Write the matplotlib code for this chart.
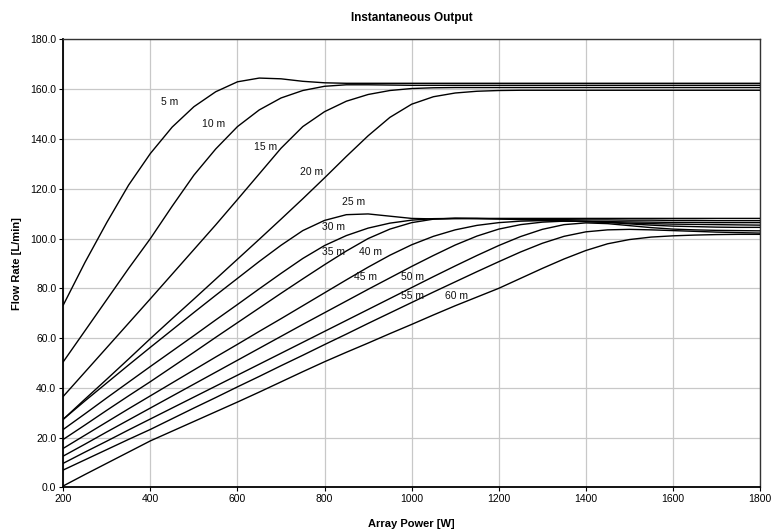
import matplotlib
matplotlib.use("Agg")
import matplotlib.pyplot as plt
from matplotlib.ticker import FormatStrFormatter

plt.rcParams['font.family'] = ['Liberation Sans', 'DejaVu Sans']

power_w = [200, 250, 300, 350, 400, 450, 500, 550, 600, 650, 700, 750, 800, 850, 900,
           950, 1000, 1050, 1100, 1150, 1200, 1250, 1300, 1350, 1400, 1450, 1500, 1550,
           1600, 1650, 1700, 1750, 1800]

flow_5m = [73.3, 90.5, 106.5, 121.5, 134.2, 144.8, 153.0, 159.0, 163.0, 164.5, 164.2, 163.2,
           162.6, 162.4, 162.4, 162.4, 162.4, 162.4, 162.4, 162.4, 162.4, 162.4, 162.4, 162.4,
           162.4, 162.4, 162.4, 162.4, 162.4, 162.4, 162.4, 162.4, 162.4]
flow_10m = [50.5, 63.0, 75.5, 88.0, 100.0, 113.0, 125.5, 136.0, 145.0, 151.7, 156.5, 159.5,
            161.2, 161.8, 161.8, 161.7, 161.6, 161.6, 161.6, 161.6, 161.6, 161.6, 161.6, 161.6,
            161.6, 161.6, 161.6, 161.6, 161.6, 161.6, 161.6, 161.6, 161.6]
flow_15m = [36.6, 46.4, 56.2, 66.0, 75.8, 85.7, 95.6, 105.5, 115.7, 126.0, 136.3, 145.0,
            151.0, 155.2, 157.9, 159.5, 160.3, 160.6, 160.7, 160.7, 160.7, 160.7, 160.7, 160.7,
            160.7, 160.7, 160.7, 160.7, 160.7, 160.7, 160.7, 160.7, 160.7]
flow_20m = [27.4, 35.5, 43.5, 51.6, 59.8, 67.8, 75.7, 83.7, 91.7, 99.7, 107.8, 116.0,
            124.4, 133.0, 141.3, 148.7, 154.0, 157.0, 158.5, 159.2, 159.5, 159.6, 159.6, 159.6,
            159.6, 159.6, 159.6, 159.6, 159.6, 159.6, 159.6, 159.6, 159.6]
flow_25m = [27.4, 34.8, 42.0, 49.2, 56.3, 63.3, 70.3, 77.2, 84.0, 90.8, 97.3, 103.2,
            107.3, 109.6, 109.9, 109.0, 108.1, 107.9, 108.0, 108.1, 108.1, 108.1, 108.1, 108.1,
            108.1, 108.1, 108.1, 108.1, 108.1, 108.1, 108.1, 108.1, 108.1]
flow_30m = [23.3, 29.6, 36.0, 42.3, 48.6, 54.8, 61.0, 67.3, 73.5, 79.8, 86.0, 92.0,
            97.2, 101.2, 104.2, 106.2, 107.4, 108.0, 108.1, 108.0, 107.9, 107.8, 107.7, 107.6,
            107.5, 107.5, 107.4, 107.4, 107.3, 107.3, 107.2, 107.2, 107.2]
flow_35m = [19.3, 25.1, 31.0, 36.8, 42.5, 48.4, 54.3, 60.3, 66.2, 72.1, 78.0, 83.8,
            89.5, 95.0, 100.0, 103.8, 106.4, 107.8, 108.2, 108.1, 107.9, 107.6, 107.3, 107.1,
            106.9, 106.8, 106.7, 106.6, 106.5, 106.5, 106.4, 106.4, 106.4]
flow_40m = [15.7, 21.0, 26.3, 31.6, 36.8, 42.0, 47.2, 52.4, 57.5, 62.7, 67.8, 73.0,
            78.2, 83.4, 88.5, 93.3, 97.5, 100.9, 103.5, 105.3, 106.4, 107.0, 107.2, 107.1,
            106.8, 106.5, 106.2, 106.0, 105.8, 105.7, 105.6, 105.5, 105.4]
flow_45m = [12.6, 17.4, 22.3, 27.1, 31.9, 36.7, 41.5, 46.3, 51.1, 55.9, 60.7, 65.5,
            70.2, 74.9, 79.6, 84.2, 88.8, 93.2, 97.4, 101.0, 103.8, 105.6, 106.6, 107.0,
            106.9, 106.5, 105.9, 105.4, 105.0, 104.8, 104.6, 104.5, 104.5]
flow_50m = [9.7, 14.2, 18.6, 23.1, 27.5, 31.9, 36.3, 40.7, 45.1, 49.5, 53.9, 58.3,
            62.7, 67.1, 71.5, 75.9, 80.3, 84.7, 89.0, 93.2, 97.2, 100.8, 103.7, 105.6,
            106.3, 106.0, 105.2, 104.4, 103.8, 103.5, 103.3, 103.2, 103.1]
flow_55m = [7.0, 11.1, 15.2, 19.3, 23.3, 27.6, 31.9, 36.1, 40.4, 44.6, 48.9, 53.1,
            57.4, 61.6, 65.9, 70.1, 74.3, 78.5, 82.6, 86.7, 90.7, 94.6, 98.1, 100.9,
            102.7, 103.5, 103.7, 103.5, 103.2, 102.9, 102.6, 102.4, 102.2]
flow_60m = [0.6, 5.2, 9.7, 14.2, 18.7, 22.6, 26.5, 30.4, 34.3, 38.3, 42.4, 46.5,
            50.5, 54.3, 58.0, 61.8, 65.5, 69.3, 73.0, 76.5, 80.0, 84.0, 88.0, 91.8,
            95.2, 97.9, 99.6, 100.6, 101.1, 101.4, 101.6, 101.7, 101.7]

series = [flow_5m, flow_10m, flow_15m, flow_20m, flow_25m, flow_30m, flow_35m,
          flow_40m, flow_45m, flow_50m, flow_55m, flow_60m]

label_texts = ["5 m", "10 m", "15 m", "20 m", "25 m", "30 m", "35 m", "40 m",
               "45 m", "50 m", "55 m", "60 m"]
label_x = [444, 545, 664, 771, 867, 821, 821, 905, 894, 1001, 1001, 1104]
label_y = [155.0, 145.9, 136.9, 126.8, 114.8, 104.7, 94.7, 94.7, 84.7, 84.7, 76.9, 76.9]

x_ticks = [200, 400, 600, 800, 1000, 1200, 1400, 1600, 1800]
y_ticks = [0, 20, 40, 60, 80, 100, 120, 140, 160, 180]

W, H = 772, 529
fig = plt.figure(figsize=(W / 100, H / 100), dpi=100)
left, right, top, bottom = 63.3, 760.0, 39.5, 487.4
ax = fig.add_axes([left / W, 1 - bottom / H, (right - left) / W, (bottom - top) / H])

for ys in series:
    ax.plot(power_w, ys, color='black', lw=1.0, solid_joinstyle='round', zorder=3)

for t, lx, ly in zip(label_texts, label_x, label_y):
    ax.text(lx, ly, t, fontsize=7.5, ha='center', va='center', color='#111111', zorder=4)

ax.set_xlim(200, 1800)
ax.set_ylim(0, 180)
ax.set_xticks(x_ticks)
ax.set_yticks(y_ticks)
ax.yaxis.set_major_formatter(FormatStrFormatter('%.1f'))
ax.grid(True, color='#c8c8c8', lw=0.9, zorder=0)
ax.set_axisbelow(True)
ax.tick_params(axis='both', labelsize=7.5, length=3, width=0.8, direction='out',
               colors='black', pad=2)
for side in ['left', 'bottom']:
    ax.spines[side].set_linewidth(1.3)
    ax.spines[side].set_color('black')
for side in ['top', 'right']:
    ax.spines[side].set_linewidth(1.0)
    ax.spines[side].set_color('#333333')

fig.text(0.5 * (left + right) / W, 1 - 18 / H, "Instantaneous Output", ha='center',
         va='center', fontsize=8.5, fontweight='bold')
fig.text(0.5 * (left + right) / W, 1 - 524 / H, "Array Power [W]", ha='center',
         va='center', fontsize=8, fontweight='bold')
fig.text(17 / W, 1 - 0.5 * (top + bottom) / H, "Flow Rate [L/min]", ha='center',
         va='center', fontsize=8, fontweight='bold', rotation=90)

fig.savefig("out.png", dpi=100)
